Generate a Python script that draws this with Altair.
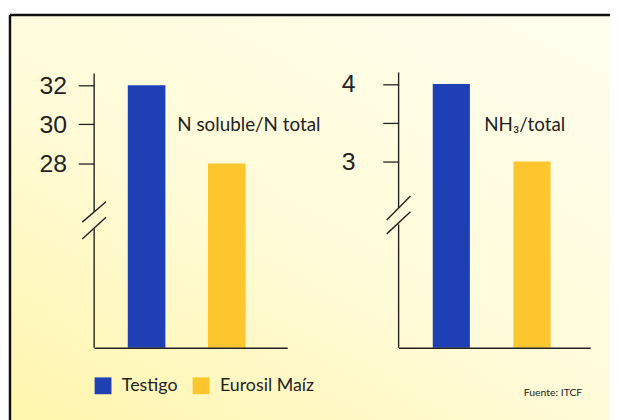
import altair as alt
import pandas as pd

# ---------------- data ----------------
groups = ["Testigo", "Eurosil Maíz"]
colors = ["#1f3fb4", "#fdc52e"]

left_values = [32, 28]          # N soluble / N total
right_values = [4, 3]           # NH3 / total
left_ticks = [28, 30, 32]
right_ticks = [3, 3.5, 4]
left_title = "N soluble/N total"
right_title = "NH₃/total"
source_text = "Fuente: ITCF"

# visible (broken) value ranges of each axis
left_domain = [18.6, 32.6]
right_domain = [0.6, 4.15]
# gap in the axis line (break), data units
left_break = [24.70, 25.54]
right_break = [2.19, 2.40]
# break slashes: value at left end, value at right end
left_slash_y = [25.01, 24.15]
left_slash_y2 = [26.05, 25.26]
right_slash_y = [2.247, 2.068]
right_slash_y2 = [2.557, 2.353]

# ---------------- layout ----------------
W, H = 606, 412
BASE = 336
INK = "#222222"
FONT = "Lato"


def panel(values, dom, top, xr, pi, po, align, ticks, axis_x, label_pad,
          label_expr, brk, sl_y, sl_y2, title, title_x):
    df = pd.DataFrame({"group": groups, "value": values})
    ys = alt.Scale(domain=dom, range=[BASE, top], zero=False, nice=False)
    xs = alt.Scale(domain=groups, range=xr, paddingInner=pi,
                   paddingOuter=po, align=align)
    yax = alt.Axis(orient="left", offset=-axis_x, values=ticks,
                   tickSize=16, tickColor=INK, tickWidth=1.3,
                   labelFont="Liberation Sans", labelFontSize=25,
                   labelColor=INK, labelPadding=label_pad,
                   labelExpr=label_expr, domain=False, grid=False,
                   title=None, zindex=2)
    legend = alt.Legend(
        orient="none", legendX=85, legendY=365.5, direction="horizontal",
        title=None, symbolType="square", symbolSize=289,
        symbolStrokeWidth=0, labelFont=FONT, labelFontSize=18,
        labelColor=INK, labelOffset=10, columnPadding=14, padding=0,
    )
    bars = alt.Chart(df).mark_bar().encode(
        x=alt.X("group:N", scale=xs, sort=groups,
                axis=alt.Axis(orient="bottom", offset=BASE - H, labels=False,
                              ticks=False, title=None, domainColor=INK,
                              domainWidth=1.4, grid=False, zindex=2)),
        y=alt.Y("value:Q", scale=ys, axis=yax),
        y2=alt.datum(dom[0]),
        color=alt.Color("group:N", scale=alt.Scale(domain=groups, range=colors),
                        legend=legend),
    )
    seg_df = pd.DataFrame({"y": [dom[0], brk[1]], "y2": [brk[0], dom[1]]})
    seg = alt.Chart(seg_df).mark_rule(color=INK, strokeWidth=1.4).encode(
        x=alt.value(axis_x),
        y=alt.Y("y:Q", scale=ys, axis=yax),
        y2="y2:Q",
    )
    sl_df = pd.DataFrame({"y": sl_y, "y2": sl_y2})
    sl = alt.Chart(sl_df).mark_rule(color=INK, strokeWidth=1.4).encode(
        x=alt.value(axis_x - 12), x2=alt.value(axis_x + 12),
        y=alt.Y("y:Q", scale=ys, axis=yax),
        y2="y2:Q",
    )
    txt = alt.Chart(pd.DataFrame({"t": [title]})).mark_text(
        align="left", baseline="alphabetic", font=FONT, fontSize=19, color=INK
    ).encode(x=alt.value(title_x), y=alt.value(117.5), text="t:N")
    return alt.layer(bars, seg, sl, txt)


left = panel(left_values, left_domain, 59, [85, 280], 0.531, 0.469, 0.447,
             left_ticks, 85, 12, "datum.label", left_break,
             left_slash_y, left_slash_y2, left_title, 169)
right = panel(right_values, right_domain, 58, [392.5, 586], 0.54, 0.457, 0.463,
              right_ticks, 392.5, 28,
              "datum.value == 3.5 ? '' : datum.label", right_break,
              right_slash_y, right_slash_y2, right_title, 479)

one = pd.DataFrame({"k": [0]})
bg = alt.Chart(one).mark_rect(
    color=alt.LinearGradient(
        gradient="linear",
        stops=[alt.GradientStop(color="#fffdeb", offset=0),
               alt.GradientStop(color="#fffbd8", offset=0.5),
               alt.GradientStop(color="#fff5ac", offset=1)],
        x1=0.8, y1=0, x2=0, y2=1,
    )
).encode(x=alt.value(0), x2=alt.value(W), y=alt.value(0), y2=alt.value(H))

border_top = alt.Chart(one).mark_rule(color="#111111", strokeWidth=2.5).encode(
    x=alt.value(0), x2=alt.value(W), y=alt.value(0))
border_left = alt.Chart(one).mark_rule(color="#111111", strokeWidth=2.5).encode(
    x=alt.value(0), y=alt.value(0), y2=alt.value(H))

src = alt.Chart(pd.DataFrame({"t": [source_text]})).mark_text(
    align="left", baseline="alphabetic", font=FONT, fontSize=10.5, color=INK
).encode(x=alt.value(519), y=alt.value(385), text="t:N")

chart = alt.layer(bg, border_top, border_left, left, right, src).resolve_scale(
    x="independent", y="independent"
).properties(
    width=W, height=H, autosize="none",
    padding={"left": 2, "top": 5, "right": 0, "bottom": 0},
).configure_view(strokeWidth=0)

chart.save("out.html", embed_options={"renderer": "svg", "actions": False})
